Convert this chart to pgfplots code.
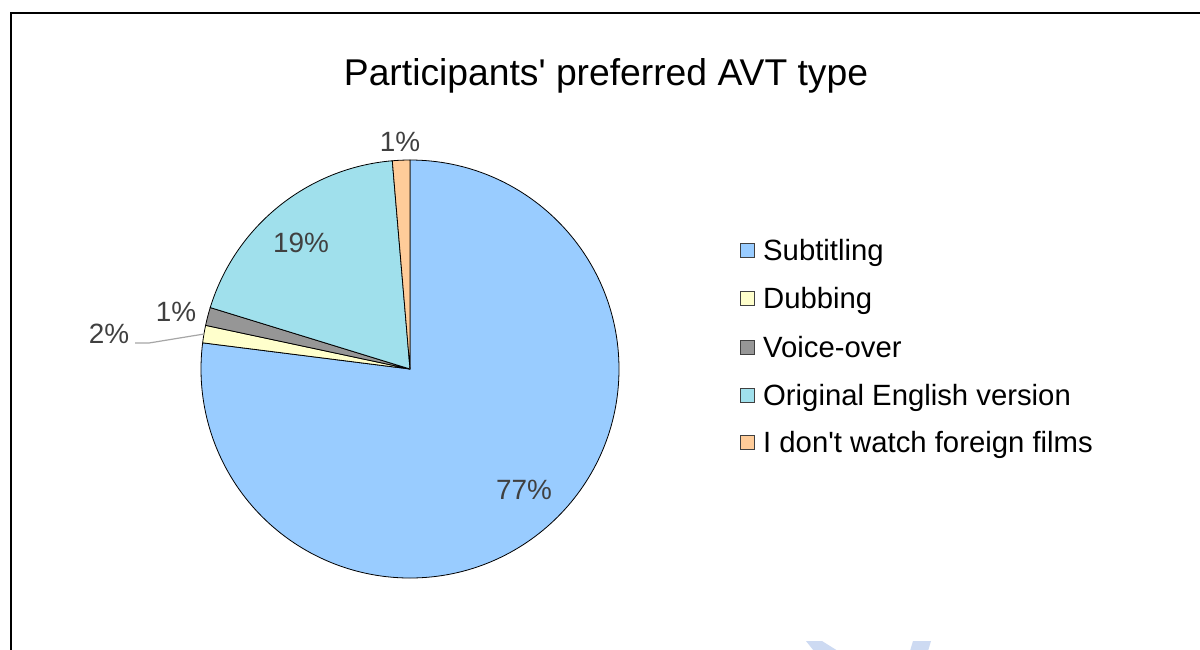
\documentclass[border=0pt]{standalone}
\usepackage{fontspec}
\setmainfont{Liberation Sans}[Ligatures=TeXOff]
\usepackage{pgfplots}
\pgfplotsset{compat=1.18}
\definecolor{csub}{RGB}{153,204,255}
\definecolor{cdub}{RGB}{255,255,204}
\definecolor{cvo}{RGB}{150,150,150}
\definecolor{corig}{RGB}{160,224,236}
\definecolor{cfor}{RGB}{255,204,153}
\definecolor{lab}{RGB}{64,64,64}
\definecolor{wm}{RGB}{205,218,242}
% slice: #1 = cumulative share before (%), #2 = share (%), #3 = colour
\newcommand{\slice}[3]{%
  \filldraw[fill=#3, draw=black, line width=0.8bp]
    (axis cs:410,369) -- ++({90-3.6*#1}:209bp)
    arc[start angle={90-3.6*#1}, delta angle={-3.6*#2}, radius=209bp] -- cycle;}
\newcommand{\legsq}[3]{%
  \filldraw[fill=#2, draw=black!75, line width=0.8bp]
    (axis cs:740,{#1-17}) rectangle (axis cs:754,{#1-3});
  \node[anchor=base west, inner sep=0pt, font=\fontsize{29.4}{30}\selectfont]
    at (axis cs:763,#1) {#3};}
\begin{document}
\begin{tikzpicture}
\path[use as bounding box] (0,0) rectangle (1200bp,650bp);
\clip (0,0) rectangle (1200bp,650bp);
\fill[white] (0,0) rectangle (1200bp,650bp);
\begin{axis}[at={(0,0)}, anchor=south west, scale only axis,
  width=1200bp, height=650bp, xmin=0, xmax=1200, ymin=0, ymax=650,
  y dir=reverse, hide axis, clip=false]
% frame
\draw[line width=2.2bp] (axis cs:11,13) rectangle (axis cs:1215,665);
% watermark traces
\fill[wm] (axis cs:806,641) -- (axis cs:822,641) -- (axis cs:838,651) -- (axis cs:814,651) -- cycle;
\fill[wm] (axis cs:913,641) -- (axis cs:931,641) -- (axis cs:928,651) -- (axis cs:910,651) -- cycle;
% pie (values in %)
\slice{0}{77.0}{csub}
\slice{77.0}{1.35}{cdub}
\slice{78.35}{1.4}{cvo}
\slice{79.75}{18.9}{corig}
\slice{98.65}{1.35}{cfor}
% leader line
\draw[color={rgb,255:red,166;green,166;blue,166}, line width=1.2bp]
  (axis cs:135,343) -- (axis cs:149,343) -- (axis cs:204,334);
% data labels
\begin{scope}[every node/.style={anchor=base, inner sep=0pt, text=lab, font=\fontsize{28}{30}\selectfont}]
\node at (axis cs:524,499) {77\%};
\node at (axis cs:301,252) {19\%};
\node at (axis cs:176,321) {1\%};
\node at (axis cs:109,343) {2\%};
\node at (axis cs:400,151) {1\%};
\end{scope}
% title
\node[anchor=base, inner sep=0pt, font=\fontsize{37.4}{40}\selectfont] at (axis cs:606,85) {Participants' preferred AVT type};
% legend
\legsq{260}{csub}{Subtitling}
\legsq{308}{cdub}{Dubbing}
\legsq{357}{cvo}{Voice-over}
\legsq{405}{corig}{Original English version}
\legsq{452}{cfor}{I don't watch foreign films}
\end{axis}
\end{tikzpicture}
\end{document}
